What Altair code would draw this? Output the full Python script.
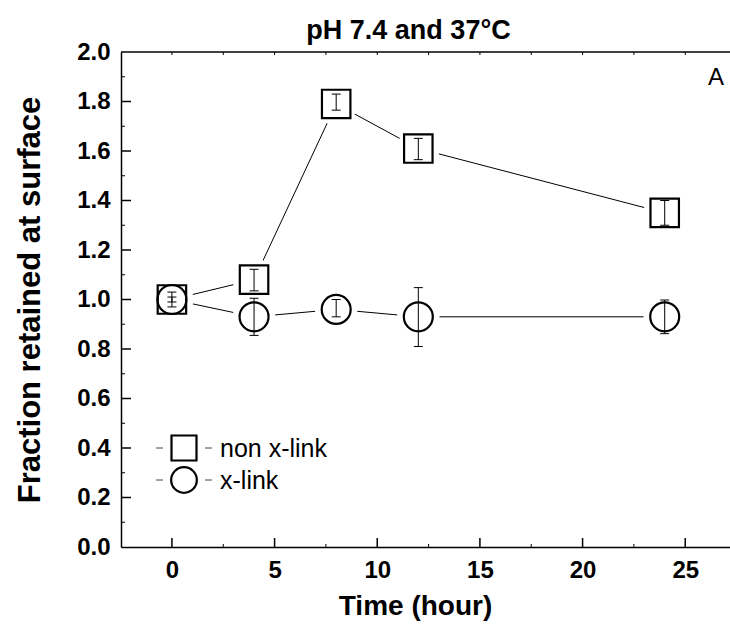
import altair as alt
import pandas as pd

# ---------------- data ----------------
time_h = [0, 4, 8, 12, 24]
series_names = ["non x-link", "x-link"]
nonx_val = [1.00, 1.08, 1.79, 1.61, 1.35]
nonx_lo = [0.03, 0.045, 0.025, 0.045, 0.05]
nonx_hi = [0.03, 0.042, 0.04, 0.041, 0.05]
xlink_val = [1.00, 0.93, 0.96, 0.93, 0.93]
xlink_lo = [0.01, 0.075, 0.03, 0.12, 0.068]
xlink_hi = [0.01, 0.075, 0.04, 0.118, 0.068]

x_ticks = [0, 5, 10, 15, 20, 25]
x_minor = [2.5, 7.5, 12.5, 17.5, 22.5]
x_top_ticks = [0, 2.5, 5, 7.5, 10, 12.5, 15, 17.5, 20, 22.5, 25]
y_ticks = [0.0, 0.2, 0.4, 0.6, 0.8, 1.0, 1.2, 1.4, 1.6, 1.8, 2.0]
y_major_inner = [0.2, 0.4, 0.6, 0.8, 1.0, 1.2, 1.4, 1.6, 1.8]
y_minor = [0.1, 0.3, 0.5, 0.7, 0.9, 1.1, 1.3, 1.5, 1.7, 1.9]

rows = []
for name, vals, los, his in [
    (series_names[0], nonx_val, nonx_lo, nonx_hi),
    (series_names[1], xlink_val, xlink_lo, xlink_hi),
]:
    for t, v, lo, hi in zip(time_h, vals, los, his):
        rows.append({"series": name, "t": t, "v": v, "lo": v - lo, "hi": v + hi})
df = pd.DataFrame(rows)

# ---------------- style ----------------
W, H = 609, 495
FONT = "Liberation Sans"
xs = alt.Scale(domain=[-2.48, 27.18], nice=False, zero=False)
ys = alt.Scale(domain=[0, 2], nice=False, zero=False)

x_axis = alt.Axis(values=x_ticks, ticks=False, tickSize=0, grid=False,
                  labelFont=FONT, labelFontSize=24, labelFontWeight="bold",
                  labelColor="black", labelPadding=11,
                  title="Time (hour)", titleFont=FONT, titleFontSize=28,
                  titleFontWeight="bold", titleColor="black", titlePadding=10,
                  titleX=294, domainColor="black", domainWidth=1.5)
y_axis = alt.Axis(values=y_ticks, format=".1f", ticks=False, tickSize=0, grid=False,
                  labelFont=FONT, labelFontSize=24, labelFontWeight="bold",
                  labelColor="black", labelPadding=11,
                  title="Fraction retained at surface", titleFont=FONT,
                  titleFontSize=31, titleFontWeight="bold", titleColor="black",
                  titlePadding=30, domainColor="black", domainWidth=1.5)

X = alt.X("t:Q", scale=xs, axis=x_axis)
Y = alt.Y("v:Q", scale=ys, axis=y_axis)

base = alt.Chart(df)

lines = base.mark_line(color="black", strokeWidth=1).encode(x=X, y=Y, detail="series:N")
masks = base.mark_point(shape="circle", filled=True, color="white", opacity=1,
                        size=1810, strokeWidth=0).encode(x=X, y=Y)
err = base.mark_rule(color="black", strokeWidth=1).encode(
    x=X, y=alt.Y("lo:Q", scale=ys, axis=y_axis), y2="hi:Q")
caps = base.transform_fold(["lo", "hi"], as_=["k", "cv"]).mark_tick(
    color="black", orient="horizontal", size=9, thickness=1, opacity=1).encode(
    x=X, y=alt.Y("cv:Q", scale=ys, axis=y_axis))
sq = base.transform_filter(alt.datum.series == series_names[0]).mark_point(
    shape="square", size=810, filled=False, color="black", opacity=1,
    strokeWidth=2.2).encode(x=X, y=Y)
ci = base.transform_filter(alt.datum.series == series_names[1]).mark_point(
    shape="circle", size=840, filled=False, color="black", opacity=1,
    strokeWidth=2.2).encode(x=X, y=Y)

# ---------- frame ticks (inward) ----------
xt = alt.Chart(pd.DataFrame({"t": x_ticks})).mark_rule(color="black", strokeWidth=1.5).encode(
    x=alt.X("t:Q", scale=xs, axis=x_axis), y=alt.value(H), y2=alt.value(H - 9))
xm = alt.Chart(pd.DataFrame({"t": x_minor})).mark_rule(color="black", strokeWidth=1).encode(
    x=alt.X("t:Q", scale=xs, axis=x_axis), y=alt.value(H), y2=alt.value(H - 3))
xtop = alt.Chart(pd.DataFrame({"t": x_top_ticks})).mark_rule(color="black", strokeWidth=1).encode(
    x=alt.X("t:Q", scale=xs, axis=x_axis), y=alt.value(0), y2=alt.value(3))
topline = alt.Chart(pd.DataFrame({"t": [0]})).mark_rule(color="black", strokeWidth=1.5).encode(
    x=alt.value(0), x2=alt.value(W), y=alt.value(0))
yt = alt.Chart(pd.DataFrame({"v": y_major_inner})).mark_rule(color="black", strokeWidth=1.5).encode(
    y=alt.Y("v:Q", scale=ys, axis=y_axis), x=alt.value(0), x2=alt.value(10))
ym = alt.Chart(pd.DataFrame({"v": y_minor})).mark_rule(color="black", strokeWidth=1).encode(
    y=alt.Y("v:Q", scale=ys, axis=y_axis), x=alt.value(0), x2=alt.value(4))

# ---------- legend & annotation ----------
one = alt.Chart(pd.DataFrame({"a": [0]}))
LX, LY1, LY2 = 63, 396, 428
leg = []
for yy in (LY1, LY2):
    leg.append(one.mark_rule(color="#444", strokeWidth=1).encode(
        x=alt.value(LX - 28), x2=alt.value(LX - 21), y=alt.value(yy)))
    leg.append(one.mark_rule(color="#444", strokeWidth=1).encode(
        x=alt.value(LX + 21), x2=alt.value(LX + 28), y=alt.value(yy)))
leg.append(one.mark_point(shape="square", size=625, filled=False, color="black", opacity=1,
                          strokeWidth=2.2).encode(x=alt.value(LX), y=alt.value(LY1)))
leg.append(one.mark_point(shape="circle", size=660, filled=False, color="black", opacity=1,
                          strokeWidth=2.2).encode(x=alt.value(LX), y=alt.value(LY2)))
leg.append(one.mark_text(align="left", baseline="middle", font=FONT, fontSize=25,
                         color="black").encode(x=alt.value(LX + 36), y=alt.value(LY1 + 1),
                                               text=alt.value(series_names[0])))
leg.append(one.mark_text(align="left", baseline="middle", font=FONT, fontSize=25,
                         color="black").encode(x=alt.value(LX + 36), y=alt.value(LY2 + 1),
                                               text=alt.value(series_names[1])))
panel = one.mark_text(align="center", baseline="middle", font=FONT, fontSize=24,
                      color="black").encode(x=alt.value(595), y=alt.value(26),
                                            text=alt.value("A"))

chart = alt.layer(
    lines, masks, err, caps, sq, ci, xt, xm, xtop, topline, yt, ym, *leg, panel
).properties(
    width=W, height=H,
    title=alt.TitleParams("pH 7.4 and 37°C", font=FONT, fontSize=27,
                          fontWeight="bold", color="black", dx=-17, offset=-5),
    autosize=alt.AutoSizeParams(type="none"),
    padding={"left": 121, "top": 52, "right": 0, "bottom": 85},
).configure_view(stroke=None)

chart.save("out.html", embed_options={"renderer": "svg", "actions": False})
